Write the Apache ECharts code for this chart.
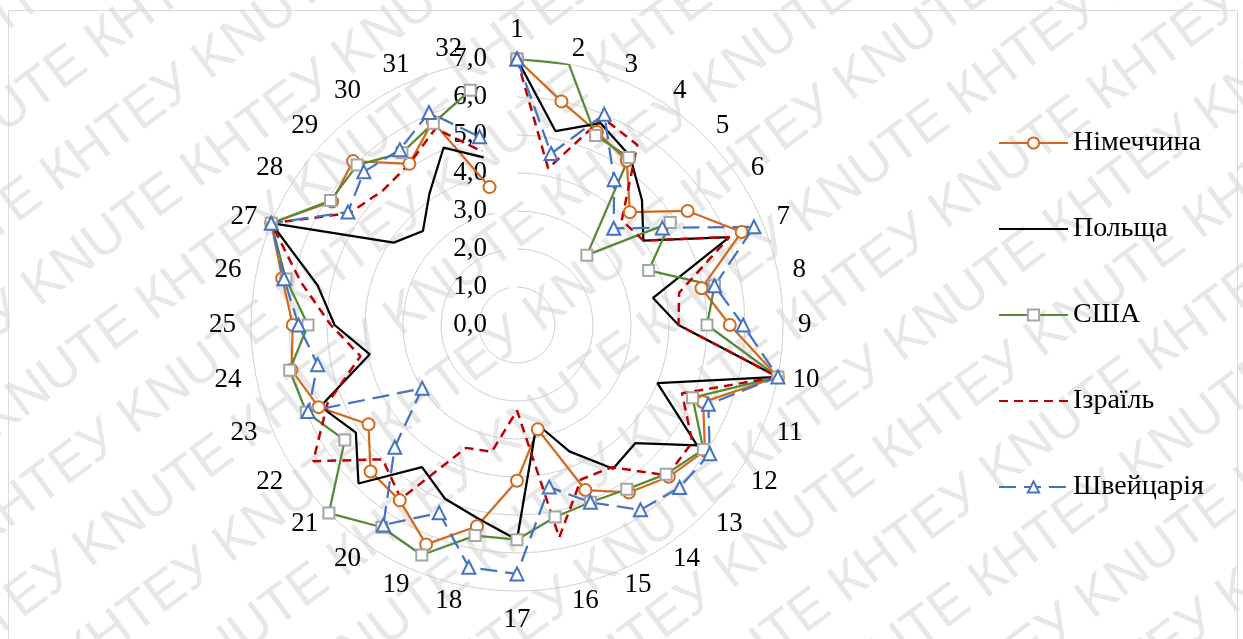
<!DOCTYPE html>
<html>
<head>
<meta charset="utf-8">
<title>Радарна діаграма</title>
<script src="https://cdn.jsdelivr.net/npm/echarts@6/dist/echarts.min.js"></script>
<style>
  html, body { margin: 0; padding: 0; background: #ffffff; }
  #chart { width: 1243px; height: 639px; }
</style>
</head>
<body>
<div id="chart"></div>
<script>
// Indicator numbers around the circle (clockwise from the top)
const categories = ['1', '2', '3', '4', '5', '6', '7', '8', '9', '10', '11', '12', '13', '14', '15', '16',
                    '17', '18', '19', '20', '21', '22', '23', '24', '25', '26', '27', '28', '29', '30', '31', '32'];

// Scores per indicator, 0..7 scale
const germany     = [7.0, 6.0, 5.5, 5.2, 4.2, 5.4, 6.4, 4.95, 5.6, 7.0, 5.3, 5.95, 5.65, 5.3, 4.7, 2.8,
                     4.1, 5.4, 6.25, 5.55, 5.45, 4.7, 5.65, 6.05, 5.9, 6.3, 7.0, 5.85, 6.1, 5.1, 5.8, 3.7];
const poland      = [7.0, 5.2, 5.75, 5.35, 4.65, 4.0, 6.05, 3.65, 4.25, 7.0, 4.0, 5.7, 4.4, 4.55, 3.6, 2.65,
                     5.65, 5.2, 4.95, 4.5, 5.9, 5.1, 5.6, 3.95, 4.8, 5.35, 7.0, 3.9, 3.5, 4.15, 5.05, 4.5];
const usa         = [7.0, 7.0, 5.4, 5.3, 2.6, 4.85, 3.75, 5.3, 5.0, 7.0, 5.0, 5.9, 5.55, 5.2, 5.05, 5.15,
                     5.65, 5.65, 6.55, 6.4, 7.0, 5.45, 6.0, 6.1, 5.5, 6.2, 7.0, 5.9, 5.95, 5.45, 5.75, 6.3];
const israel      = [7.0, 4.2, 5.9, 5.7, 3.9, 4.0, 6.05, 4.35, 4.25, 7.0, 4.7, 5.55, 5.6, 4.5, 4.4, 5.7,
                     2.25, 3.4, 3.5, 5.5, 5.0, 6.45, 5.4, 4.2, 4.9, 5.8, 7.0, 5.3, 5.0, 5.1, 5.6, 4.65];
const switzerland = [7.0, 4.6, 6.0, 4.6, 3.6, 4.6, 6.75, 5.3, 5.95, 7.0, 5.45, 6.1, 6.05, 5.85, 5.05, 4.35,
                     6.55, 6.5, 5.35, 6.33, 4.55, 3.0, 5.95, 5.35, 5.75, 6.25, 7.0, 5.35, 5.7, 5.55, 6.05, 5.05];

// Radial scale
const radiusMin = 0;
const radiusMax = 7;
const radiusStep = 1;

const seriesNames = ['Німеччина', 'Польща', 'США', 'Ізраїль', 'Швейцарія'];

const SERIF = "'Liberation Serif', 'Times New Roman', serif";
const LABEL_SIZE = 27;
const LEGEND_SIZE = 28;

// Closed polygon in polar coordinates: [radius, category index], first point repeated at the end
function closedRing(values) {
  const pts = values.map((v, i) => [v, i]);
  pts.push([values[0], 0]);
  return pts;
}

// Angle-axis labels: straight up/down labels keep a full line box,
// labels close to the vertical are pushed sideways away from the axis
const angleData = categories.map((c, i) => {
  const deg = i * 360 / categories.length;
  const s = Math.sin(deg * Math.PI / 180);
  if (Math.abs(s) < 1e-6) {
    return { value: c, textStyle: { lineHeight: 28 } };
  }
  if (Math.abs(s) < 0.3) {
    const w = c.length * LABEL_SIZE / 2;
    return { value: c, textStyle: { padding: s > 0 ? [0, 0, 0, w] : [0, w, 0, 0] } };
  }
  return c;
});

function lineSeries(name, values, opts) {
  return Object.assign({
    type: 'line',
    name: name,
    coordinateSystem: 'polar',
    data: closedRing(values),
    smooth: false,
    animation: false,
    silent: true
  }, opts);
}

const series = [
  lineSeries(seriesNames[0], germany, {
    symbol: 'emptyCircle', symbolSize: 12,
    lineStyle: { color: '#d2691e', width: 2.25 },
    itemStyle: { color: '#d2691e', borderWidth: 1.75 }
  }),
  lineSeries(seriesNames[1], poland, {
    symbol: 'none',
    lineStyle: { color: '#000000', width: 2.25 },
    itemStyle: { color: '#000000' }
  }),
  lineSeries(seriesNames[2], usa, {
    symbol: 'emptyRect', symbolSize: 11,
    lineStyle: { color: '#548a35', width: 2.25 },
    itemStyle: { color: '#a5a5a5', borderWidth: 1.75 }
  }),
  lineSeries(seriesNames[3], israel, {
    symbol: 'none',
    lineStyle: { color: '#c00000', width: 2.5, type: [9, 6] },
    itemStyle: { color: '#c00000' }
  }),
  lineSeries(seriesNames[4], switzerland, {
    symbol: 'emptyTriangle', symbolSize: 13,
    lineStyle: { color: '#4472c4', width: 2.25, type: [17, 8] },
    itemStyle: { color: '#4472c4', borderWidth: 1.75 }
  })
];

// Background watermark rows and frame
const watermarkRows = [];
for (let k = -9; k <= 9; k++) {
  watermarkRows.push({
    type: 'text',
    x: -1150 + (((k % 2) + 2) % 2) * 115,
    y: k * 80,
    z: -1,
    silent: true,
    style: {
      text: Array(14).fill('КНТЕУ KNUTE').join(' '),
      font: "54px 'Liberation Sans', Arial, sans-serif",
      fill: '#e7e7e7'
    }
  });
}

const chart = echarts.init(document.getElementById('chart'), null, { renderer: 'canvas' });

chart.setOption({
  animation: false,
  backgroundColor: '#ffffff',
  graphic: [
    {
      type: 'group', x: 621, y: 320, rotation: 0.64, silent: true, z: -1,
      children: watermarkRows
    },
    {
      type: 'rect', silent: true, z: -1,
      shape: { x: 8.5, y: 10.5, width: 1229, height: 650 },
      style: { fill: 'none', stroke: '#d9d9d9', lineWidth: 1 }
    }
  ],
  polar: { center: [517, 325], radius: 266 },
  angleAxis: {
    type: 'category',
    data: angleData,
    startAngle: 90,
    clockwise: true,
    boundaryGap: false,
    axisLine: { show: false },
    axisTick: { show: false },
    splitLine: { show: false },
    axisLabel: {
      interval: 0,
      margin: 15,
      color: '#000000',
      fontFamily: SERIF,
      fontSize: LABEL_SIZE,
      lineHeight: 1
    }
  },
  radiusAxis: {
    type: 'value',
    min: radiusMin,
    max: radiusMax,
    interval: radiusStep,
    axisLine: { show: false },
    axisTick: { show: false },
    splitLine: { show: true, lineStyle: { color: '#d0d0d0', width: 1 } },
    axisLabel: {
      margin: 30,
      color: '#000000',
      fontFamily: SERIF,
      fontSize: LABEL_SIZE,
      formatter: v => v.toFixed(1).replace('.', ',')
    }
  },
  legend: {
    orient: 'vertical',
    left: 998,
    top: 128,
    padding: 0,
    itemWidth: 69,
    itemHeight: 14,
    itemGap: 56,
    selectedMode: false,
    textStyle: { color: '#000000', fontFamily: SERIF, fontSize: LEGEND_SIZE, lineHeight: 30 },
    data: [
      seriesNames[0],
      { name: seriesNames[1], itemStyle: { color: 'rgba(0,0,0,0)', opacity: 0 } },
      seriesNames[2],
      { name: seriesNames[3], itemStyle: { color: 'rgba(0,0,0,0)', opacity: 0 } },
      seriesNames[4]
    ]
  },
  series: series
});
</script>
</body>
</html>
